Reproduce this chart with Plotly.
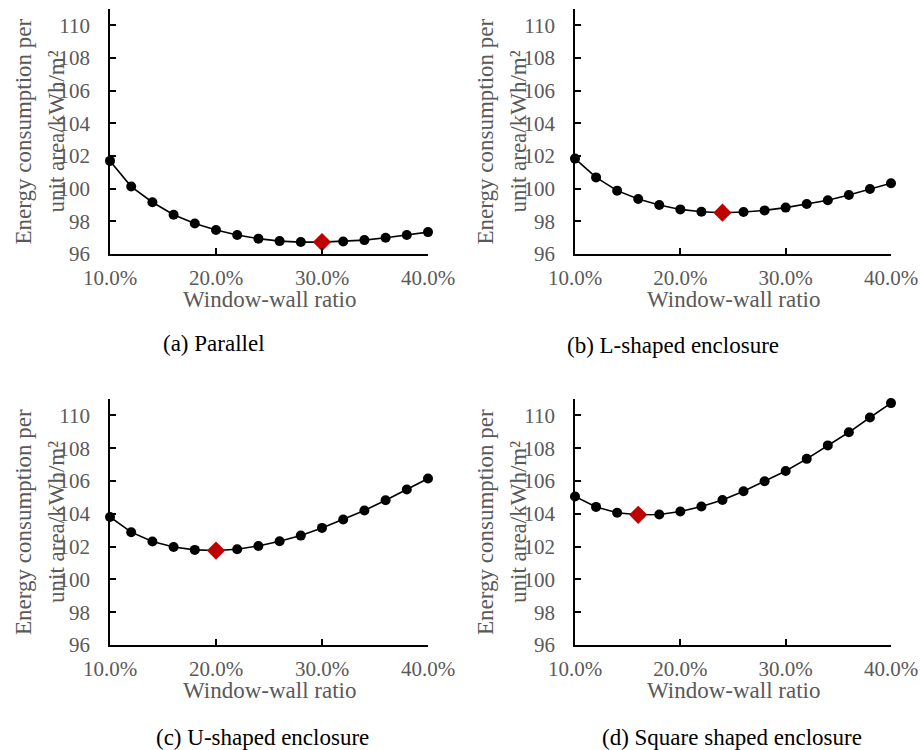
import plotly.graph_objects as go

# ---------------- data ----------------
ratios = [0.10, 0.12, 0.14, 0.16, 0.18, 0.20, 0.22, 0.24,
          0.26, 0.28, 0.30, 0.32, 0.34, 0.36, 0.38, 0.40]

parallel = [101.70, 100.13, 99.17, 98.40, 97.87, 97.47, 97.16, 96.94,
            96.79, 96.73, 96.73, 96.77, 96.85, 97.00, 97.16, 97.34]
l_shaped = [101.84, 100.69, 99.88, 99.37, 99.00, 98.73, 98.59, 98.53,
            98.57, 98.67, 98.84, 99.06, 99.29, 99.61, 99.98, 100.33]
u_shaped = [103.81, 102.88, 102.31, 101.98, 101.80, 101.76, 101.84, 102.04,
            102.33, 102.67, 103.14, 103.65, 104.20, 104.83, 105.48, 106.15]
square_shaped = [105.06, 104.42, 104.06, 103.94, 103.96, 104.14, 104.44, 104.84,
                 105.38, 105.98, 106.61, 107.35, 108.17, 108.97, 109.87, 110.75]

optimum_parallel = 0.30
optimum_l_shaped = 0.24
optimum_u_shaped = 0.20
optimum_square = 0.16

captions = ["(a) Parallel", "(b) L-shaped enclosure",
            "(c) U-shaped enclosure", "(d) Square shaped enclosure"]

y_ticks = [96, 98, 100, 102, 104, 106, 108, 110]
x_ticks = [0.10, 0.20, 0.30, 0.40]
x_tick_labels = ["10.0%", "20.0%", "30.0%", "40.0%"]

x_title = "Window-wall ratio"
y_title_line1 = "Energy consumption per"
y_title_line2 = "unit area/kWh/m²"

# ---------------- layout ----------------
W, H = 920, 750
FONT = "Liberation Serif, Times New Roman, serif"
GRAY = "#595959"
RED = "#C00000"

def px_x(p):
    return p / W

def px_y(p):
    return 1 - p / H

# plot-area pixel boxes: (left, right, top, bottom)
boxes = [(110, 428, 9, 254), (575, 891, 9, 254),
         (110, 428, 399, 645), (575, 891, 399, 645)]
series = [parallel, l_shaped, u_shaped, square_shaped]
optima = [optimum_parallel, optimum_l_shaped, optimum_u_shaped, optimum_square]
caption_pos = [(214, 343), (673, 345), (262, 737), (732, 737)]
ytitle_x = [(23, 56), (485, 518), (23, 56), (485, 518)]

fig = go.Figure()
annotations = []
layout_axes = {}

for i, (vals, opt, box) in enumerate(zip(series, optima, boxes)):
    n = i + 1
    xa = "x" if n == 1 else f"x{n}"
    ya = "y" if n == 1 else f"y{n}"
    is_opt = [abs(r - opt) < 1e-9 for r in ratios]
    fig.add_trace(go.Scatter(
        x=ratios, y=vals, xaxis=xa, yaxis=ya, mode="lines+markers",
        line=dict(color="black", width=1.6),
        marker=dict(
            symbol=["diamond" if o else "circle" for o in is_opt],
            size=[14 if o else 10 for o in is_opt],
            color=[RED if o else "black" for o in is_opt],
            opacity=1,
            line=dict(width=0)),
        cliponaxis=False, showlegend=False))

    l, r, t, b = box
    xkey = "xaxis" if n == 1 else f"xaxis{n}"
    ykey = "yaxis" if n == 1 else f"yaxis{n}"
    layout_axes[xkey] = dict(
        domain=[px_x(l), px_x(r)], anchor=ya, range=[0.10, 0.40],
        tickvals=x_ticks, ticktext=x_tick_labels, automargin=False,
        ticks="inside", ticklen=6, tickwidth=1.5, tickcolor="black",
        showline=True, linecolor="black", linewidth=1.8,
        showgrid=False, zeroline=False, ticklabelstandoff=4,
        tickfont=dict(family=FONT, size=21, color=GRAY))
    layout_axes[ykey] = dict(
        domain=[px_y(b), px_y(t)], anchor=xa, range=[96, 111],
        tickvals=y_ticks, automargin=False,
        ticks="inside", ticklen=6, tickwidth=1.5, tickcolor="black",
        showline=True, linecolor="black", linewidth=1.8,
        showgrid=False, zeroline=False, ticklabelstandoff=14,
        tickfont=dict(family=FONT, size=21, color=GRAY))

    cx = (l + r) / 2
    cy = (t + b) / 2
    # x-axis title
    annotations.append(dict(
        text=x_title, x=px_x(cx), y=px_y(b + 45), xref="paper", yref="paper",
        xanchor="center", yanchor="middle", showarrow=False,
        font=dict(family=FONT, size=23, color=GRAY)))
    # y-axis title (two lines)
    for line_text, lx in zip([y_title_line1, y_title_line2], ytitle_x[i]):
        annotations.append(dict(
            text=line_text, x=px_x(lx), y=px_y(cy), xref="paper", yref="paper",
            xanchor="center", yanchor="middle", textangle=-90, showarrow=False,
            font=dict(family=FONT, size=23, color=GRAY)))
    # caption
    capx, capy = caption_pos[i]
    annotations.append(dict(
        text=captions[i], x=px_x(capx), y=px_y(capy), xref="paper", yref="paper",
        xanchor="center", yanchor="middle", showarrow=False,
        font=dict(family=FONT, size=23, color="black")))

fig.update_layout(
    width=W, height=H,
    margin=dict(l=0, r=0, t=0, b=0, autoexpand=False),
    paper_bgcolor="white", plot_bgcolor="white",
    showlegend=False, annotations=annotations,
    **layout_axes)

# remove the default 8px page margin so the 920x750 figure fills the window
fig.write_html("out.html",
               config={"displayModeBar": False},
               post_script="document.body.style.margin='0';"
                           "document.body.style.overflow='hidden';")
